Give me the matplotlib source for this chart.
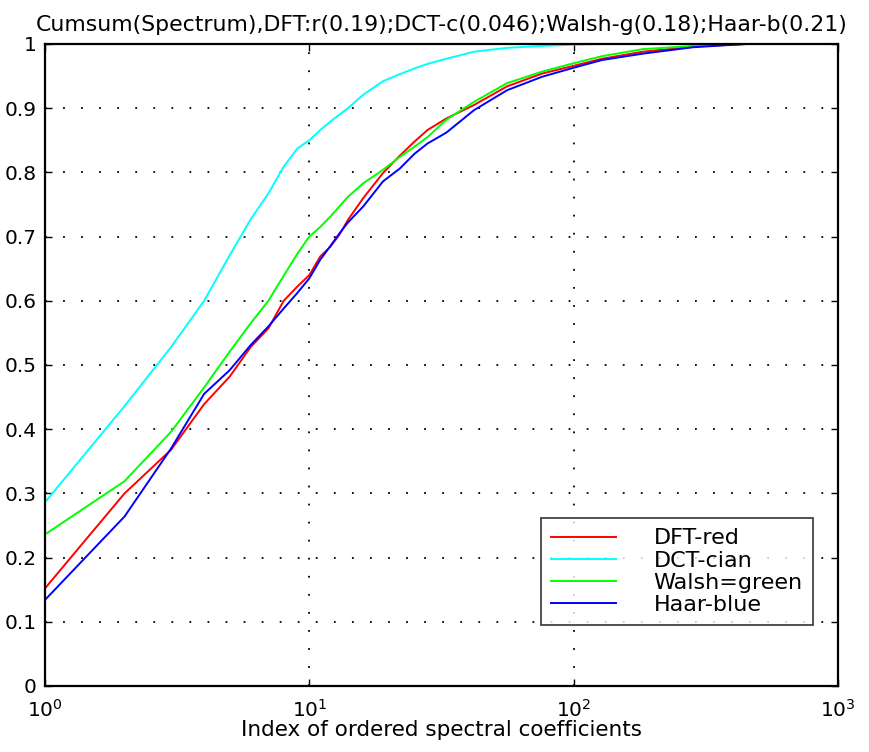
import matplotlib
matplotlib.use("Agg")
import matplotlib.pyplot as plt

plt.rcParams['font.family'] = ['DejaVu Sans']
plt.rcParams['mathtext.fontset'] = 'dejavusans'

# index of ordered coefficients
idx = [1, 2, 3, 4, 5, 6, 7, 8, 9, 10, 11, 12, 13, 14, 16, 19, 22, 25, 28, 33,
       42, 56, 76, 100, 128, 183, 284, 450, 1000]

dft = [0.152, 0.300, 0.368, 0.439, 0.482, 0.528, 0.557, 0.600, 0.622, 0.640,
       0.669, 0.684, 0.703, 0.726, 0.760, 0.799, 0.826, 0.848, 0.866, 0.884,
       0.905, 0.934, 0.954, 0.966, 0.977, 0.988, 0.996, 1.0, 1.0]
dct = [0.286, 0.436, 0.528, 0.600, 0.671, 0.727, 0.767, 0.809, 0.837, 0.850,
       0.866, 0.879, 0.890, 0.900, 0.921, 0.942, 0.953, 0.962, 0.969, 0.977,
       0.988, 0.994, 0.997, 0.999, 1.0, 1.0, 1.0, 1.0, 1.0]
walsh = [0.236, 0.319, 0.396, 0.465, 0.521, 0.565, 0.600, 0.639, 0.673, 0.700,
         0.715, 0.731, 0.747, 0.762, 0.783, 0.804, 0.824, 0.840, 0.855, 0.882,
         0.910, 0.939, 0.957, 0.970, 0.981, 0.992, 0.997, 1.0, 1.0]
haar = [0.134, 0.264, 0.370, 0.455, 0.492, 0.531, 0.560, 0.588, 0.612, 0.635,
        0.664, 0.685, 0.705, 0.722, 0.747, 0.786, 0.806, 0.829, 0.845, 0.862,
        0.897, 0.928, 0.949, 0.963, 0.975, 0.985, 0.995, 1.0, 1.0]

labels = ['DFT-red', 'DCT-cian', 'Walsh=green', 'Haar-blue']
colors = ['#ff0000', '#00ffff', '#00ff00', '#0000ff']
yticks = [0, 0.1, 0.2, 0.3, 0.4, 0.5, 0.6, 0.7, 0.8, 0.9, 1]
ytick_labels = ['0', '0.1', '0.2', '0.3', '0.4', '0.5', '0.6', '0.7', '0.8', '0.9', '1']

fig = plt.figure(figsize=(8.7, 7.52), dpi=100)
ax = fig.add_axes([0.0517, 0.0878, 0.9115, 0.8537])

for ys, lab, c in zip([dft, dct, walsh, haar], labels, colors):
    ax.plot(idx, ys, color=c, lw=1.4, label=lab)

ax.set_xscale('log')
ax.set_xlim(1, 1000)
ax.set_ylim(0, 1)
ax.set_yticks(yticks)
ax.set_yticklabels(ytick_labels)
ax.xaxis.set_minor_locator(matplotlib.ticker.NullLocator())
ax.tick_params(direction='in', length=5, width=1, top=True, right=True,
               labelsize=14.5, colors='black')
ax.tick_params(axis='y', pad=6)
ax.tick_params(axis='x', pad=9)
ax.grid(True, color='black', linestyle=(0, (1, 9)), linewidth=1.3)
for s in ax.spines.values():
    s.set_linewidth(1.6)

ax.set_title('Cumsum(Spectrum),DFT:r(0.19);DCT-c(0.046);Walsh-g(0.18);Haar-b(0.21)',
             fontsize=15.8, pad=9)
ax.set_xlabel('Index of ordered spectral coefficients', fontsize=15.5, labelpad=0)

leg = ax.legend(loc='lower right', bbox_to_anchor=(0.968, 0.095), borderaxespad=0,
                fancybox=False, edgecolor='black', fontsize=16, handlelength=2.9,
                handletextpad=1.7, borderpad=0.45, labelspacing=0.1)
leg.get_frame().set_linewidth(1.2)

fig.savefig('out.png', dpi=100)
